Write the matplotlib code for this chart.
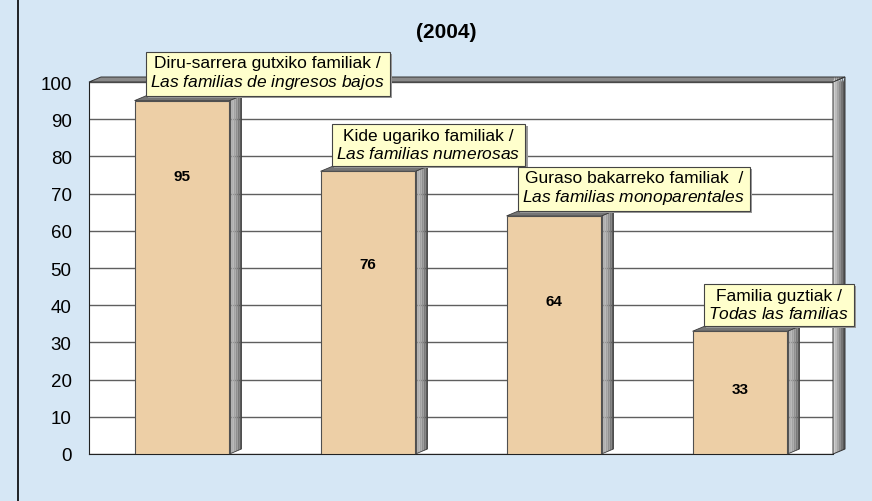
import matplotlib
matplotlib.use("Agg")
import matplotlib.pyplot as plt
import matplotlib.patheffects as pe
import numpy as np

plt.rcParams['font.family'] = ['Liberation Sans', 'DejaVu Sans']
plt.rcParams['mathtext.fontset'] = 'custom'
plt.rcParams['mathtext.rm'] = 'Liberation Sans'
plt.rcParams['mathtext.it'] = 'Liberation Sans:italic'

# ---- data ----
labels_eu = ["Diru-sarrera gutxiko familiak /",
             "Kide ugariko familiak /",
             "Guraso bakarreko familiak  /",
             "Familia guztiak /"]
labels_es = ["Las familias de ingresos bajos",
             "Las familias numerosas",
             "Las familias monoparentales",
             "Todas las familias"]
values = [95, 76, 64, 33]
yticks = [0, 10, 20, 30, 40, 50, 60, 70, 80, 90, 100]
title = "(2004)"

# ---- style ----
label_frac = [0.787, 0.672, 0.644, 0.533]   # vertical placement of value labels within bars
bg = '#D6E7F5'
bar_color = '#EDCFA6'
W, H = 872, 502
fig = plt.figure(figsize=(W / 100, H / 100), dpi=100, facecolor=bg)

L, R, T, B = 89, 833, 83, 455
ax = fig.add_axes([L / W, 1 - B / H, (R - L) / W, (B - T) / H])
ax.set_facecolor('white')
ax.set_xlim(-0.5, len(values) - 0.5)
ax.set_ylim(0, 100)
ax.set_yticks(yticks)
ax.set_xticks([])
ax.tick_params(axis='y', length=0, pad=12.5, labelsize=13.5)
for s in ['top', 'right']:
    ax.spines[s].set_visible(False)
ax.spines['left'].set_color('#222222')
ax.spines['bottom'].set_color('#222222')
ax.yaxis.grid(True, color='#5f5f5f', lw=1.0, zorder=0)
ax.set_axisbelow(True)

# pixel -> data conversions for the 3D depth effect
px_x = (len(values)) / (R - L)
px_y = 100 / (B - T)
DX, DY = 12, 5
dxd, dyd = DX * px_x, DY * px_y

x = np.arange(len(values))
w = 0.51
ax.bar(x, values, width=w, color=bar_color, edgecolor='#505050', lw=0.8, zorder=4)

side_cols = ['#555555', '#b0b0b0', '#a2a2a2', '#909090', '#7a7a7a', '#5a5a5a']
n = len(side_cols)
for xi, v in zip(x, values):
    xr = xi + w / 2
    for k, c in enumerate(side_cols):
        f0, f1 = k / n, (k + 1) / n
        ax.fill([xr + f0 * dxd, xr + f1 * dxd, xr + f1 * dxd, xr + f0 * dxd],
                [f0 * dyd, f1 * dyd, v + f1 * dyd, v + f0 * dyd],
                color=c, lw=0, zorder=3.5, clip_on=False)
    ax.fill([xr, xr + dxd, xr + dxd, xr], [0, dyd, v + dyd, v],
            fc='none', ec='#3c3c3c', lw=0.6, zorder=3.6, clip_on=False)
    xl = xi - w / 2
    ax.fill([xl, xl + dxd, xr + dxd, xr], [v, v + dyd, v + dyd, v],
            fc='#767676', ec='#3c3c3c', lw=0.6, zorder=3.6, clip_on=False)

# plot-area top rim and right wall (axes coords)
ax_w, ax_h = R - L, B - T
dxa, dya = DX / ax_w, DY / ax_h
ax.fill([0, dxa, 1 + dxa, 1], [1, 1 + dya, 1 + dya, 1], transform=ax.transAxes,
        fc='#8a8a8a', ec='#333333', lw=0.7, clip_on=False, zorder=5)
wall_cols = ['#d0d0d0', '#bcbcbc', '#a6a6a6', '#8e8e8e', '#747474', '#5a5a5a']
m = len(wall_cols)
for k, c in enumerate(wall_cols):
    f0, f1 = k / m, (k + 1) / m
    ax.fill([1 + f0 * dxa, 1 + f1 * dxa, 1 + f1 * dxa, 1 + f0 * dxa],
            [f0 * dya, f1 * dya, 1 + dya, 1], transform=ax.transAxes,
            color=c, lw=0, clip_on=False, zorder=5)
ax.fill([1, 1 + dxa, 1 + dxa, 1], [0, dya, 1 + dya, 1], transform=ax.transAxes,
        fc='none', ec='#333333', lw=0.7, clip_on=False, zorder=5)

# value labels
for xi, v, fr in zip(x, values, label_frac):
    ax.text(xi, v * fr, str(v), ha='center', va='center', fontsize=11,
            fontweight='bold', zorder=6)

# category call-out boxes
fs = 12.5
pad_frac = 0.28
pad_px = pad_frac * fs * 100 / 72
for xi, v, eu, es in zip(x, values, labels_eu, labels_es):
    es_m = r"$\mathit{" + es.replace(" ", r"\ ") + "}$"
    a = ax.annotate(eu + "\n" + es_m, xy=(xi - w / 2, v),
                    xytext=(11 + pad_px, 5 + pad_px), textcoords='offset pixels',
                    ha='left', va='bottom', multialignment='center', fontsize=fs,
                    linespacing=1.15, zorder=7, annotation_clip=False,
                    bbox=dict(boxstyle=f'square,pad={pad_frac}', fc='#FFFFCC',
                              ec='#444444', lw=0.8))
    a.get_bbox_patch().set_path_effects([
        pe.SimplePatchShadow(offset=(1.5, -1.5), shadow_rgbFace='#9a9a9a', alpha=1.0),
        pe.Normal()])

fig.text(446 / W, 1 - 33 / H, title, ha='center', va='center', fontsize=15,
         fontweight='bold')

# outer frame line on the left
fig.add_artist(plt.Line2D([17.5 / W, 17.5 / W], [0, 1], color='black', lw=1.2,
                          transform=fig.transFigure))

fig.savefig('out.png', dpi=100, facecolor=bg)
